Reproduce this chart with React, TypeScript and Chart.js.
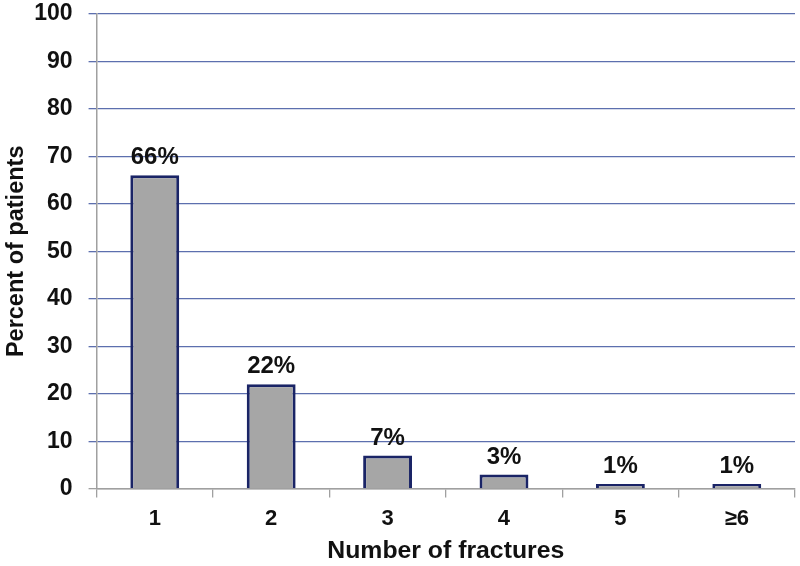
import React, { useEffect, useRef } from "react";
import { Chart, registerables } from "chart.js";

Chart.register(...registerables);

const categories = ["1", "2", "3", "4", "5", "≥6"];
const percentValues = [66, 22, 7, 3, 1, 1];
const valueLabels = ["66%", "22%", "7%", "3%", "1%", "1%"];
const yTickValues = [0, 10, 20, 30, 40, 50, 60, 70, 80, 90, 100];

const FONT = "Arial, 'Liberation Sans', Helvetica, sans-serif";

const labelPlugin = {
  id: "barValueLabels",
  afterDatasetsDraw(chart: any) {
    const ctx = chart.ctx;
    const meta = chart.getDatasetMeta(0);
    ctx.save();
    ctx.font = `bold 24px ${FONT}`;
    ctx.fillStyle = "#111111";
    ctx.textAlign = "center";
    ctx.textBaseline = "alphabetic";
    meta.data.forEach((bar: any, i: number) => {
      ctx.fillText(valueLabels[i], bar.x, bar.y - 11);
    });
    ctx.restore();
  },
};

export default function App() {
  const canvasRef = useRef<HTMLCanvasElement | null>(null);

  useEffect(() => {
    if (!canvasRef.current) return;
    const chart = new Chart(canvasRef.current, {
      type: "bar",
      data: {
        labels: categories,
        datasets: [
          {
            data: percentValues,
            backgroundColor: "#a6a6a6",
            borderColor: "#1a2466",
            borderWidth: 3,
            categoryPercentage: 1,
            barPercentage: 0.42,
          },
        ],
      },
      options: {
        animation: false,
        responsive: false,
        maintainAspectRatio: false,
        layout: { padding: { top: 0, right: 5, left: 0, bottom: 0 } },
        plugins: {
          legend: { display: false },
          tooltip: { enabled: false },
        },
        scales: {
          x: {
            offset: true,
            grid: {
              offset: true,
              drawOnChartArea: false,
              drawTicks: true,
              tickLength: 17,
              tickBorderDash: [8, 40],
              color: "#a0a0a0",
              lineWidth: 1.3,
            },
            border: { color: "#a0a0a0", width: 1.5 },
            ticks: {
              color: "#111111",
              font: { family: FONT, size: 22, weight: "bold" },
              padding: 0,
            },
            title: {
              display: true,
              text: "Number of fractures",
              color: "#111111",
              font: { family: FONT, size: 24.8, weight: "bold" },
              padding: { top: 4, bottom: 0 },
            },
          },
          y: {
            min: 0,
            max: 100,
            afterBuildTicks: (axis: any) => {
              axis.ticks = yTickValues.map((v) => ({ value: v }));
            },
            grid: {
              color: (c: any) => (c.tick && c.tick.value === 0 ? "#a0a0a0" : "#5d6fae"),
              lineWidth: 1.3,
              tickLength: 24,
              tickBorderDash: [8, 16],
              tickBorderDashOffset: 8,
              drawTicks: true,
            },
            border: { color: "#a0a0a0", width: 1.5 },
            ticks: {
              color: "#111111",
              font: { family: FONT, size: 23, weight: "bold" },
              padding: 0,
            },
            title: {
              display: true,
              text: "Percent of patients",
              color: "#111111",
              font: { family: FONT, size: 23.5, weight: "bold" },
              padding: { top: 2, bottom: 4 },
            },
          },
        },
      },
      plugins: [labelPlugin],
    });
    return () => chart.destroy();
  }, []);

  return (
    <div style={{ position: "absolute", left: 0, top: 0, width: 800, height: 566, background: "#ffffff" }}>
      <canvas ref={canvasRef} width={800} height={566} style={{ display: "block" }} />
    </div>
  );
}
